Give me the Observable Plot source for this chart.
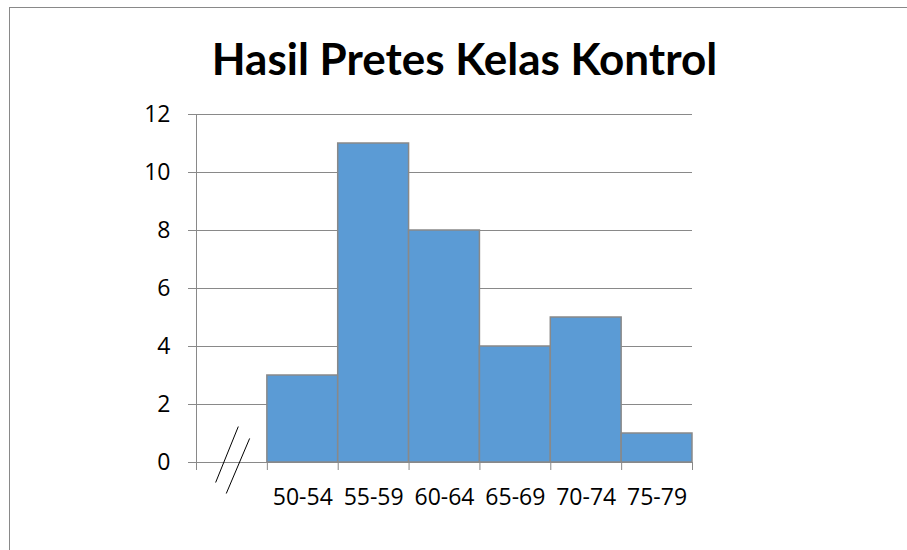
<!DOCTYPE html>
<html>
<head>
<meta charset="utf-8">
<script src="https://cdn.jsdelivr.net/npm/d3@7"></script>
<script src="https://cdn.jsdelivr.net/npm/@observablehq/plot@0.6"></script>
<style>
  html, body { margin: 0; padding: 0; background: #fff; overflow: hidden; }
  #wrap { position: relative; width: 907px; height: 550px; overflow: hidden; }
  #border { position: absolute; left: 9px; top: 7px; width: 1200px; height: 1200px; border-top: 1px solid #898989; border-left: 1px solid #898989; box-sizing: border-box; }
  #title { position: absolute; left: 0; top: 8px; width: 929px; height: 100px; text-align: center;
           font-family: Lato, sans-serif; font-weight: 700; font-size: 44px; line-height: 100px; color: #000; }
  #chart { position: absolute; left: 0; top: 100px; }
</style>
</head>
<body>
<div id="wrap">
  <div id="border"></div>
  <div id="title">Hasil Pretes Kelas Kontrol</div>
  <div id="chart"></div>
</div>
<script>
const categories = ["50-54", "55-59", "60-64", "65-69", "70-74", "75-79"];
const counts = [3, 11, 8, 4, 5, 1];
const yTicks = [0, 2, 4, 6, 8, 10, 12];
// axis-break decoration in the empty first slot (x in slot units, y in value units)
const breakMarks = [
  {x1: 0.27, y1: -0.69, x2: 0.59, y2: 1.24},
  {x1: 0.42, y1: -1.07, x2: 0.75, y2: 0.83}
];

const data = categories.map((c, i) => ({cat: c, n: counts[i], x1: i + 1, x2: i + 2}));
const boundaries = d3.range(categories.length + 2);

const chart = Plot.plot({
  width: 907,
  height: 450,
  marginLeft: 196,
  marginRight: 215,
  marginTop: 14,
  marginBottom: 88,
  style: {fontFamily: "'Open Sans', sans-serif", fontSize: "23px", color: "#000", background: "transparent", overflow: "visible"},
  x: {type: "linear", domain: [0, categories.length + 1], axis: null},
  y: {domain: [0, 12], axis: null},
  marks: [
    Plot.gridY(yTicks, {stroke: "#898989", strokeOpacity: 1, strokeWidth: 1}),
    Plot.axisY(yTicks, {tickSize: 8, tickPadding: 18, stroke: "#898989", fill: "#000", label: null, fontSize: 23}),
    Plot.rectY(data, {x1: "x1", x2: "x2", y: "n", fill: "#5B9BD5", stroke: "#898989", strokeWidth: 1.5}),
    Plot.ruleX([0], {stroke: "#898989"}),
    Plot.ruleY([0], {stroke: "#898989"}),
    Plot.axisX(boundaries, {tickSize: 8, tickFormat: () => "", stroke: "#898989", label: null}),
    Plot.text(data, {x: d => (d.x1 + d.x2) / 2, y: 0, text: "cat", dy: 35, fill: "#000", fontSize: 23}),
    Plot.link(breakMarks, {x1: "x1", y1: "y1", x2: "x2", y2: "y2", stroke: "#000", strokeWidth: 1})
  ]
});
document.getElementById("chart").appendChild(chart);
</script>
</body>
</html>
